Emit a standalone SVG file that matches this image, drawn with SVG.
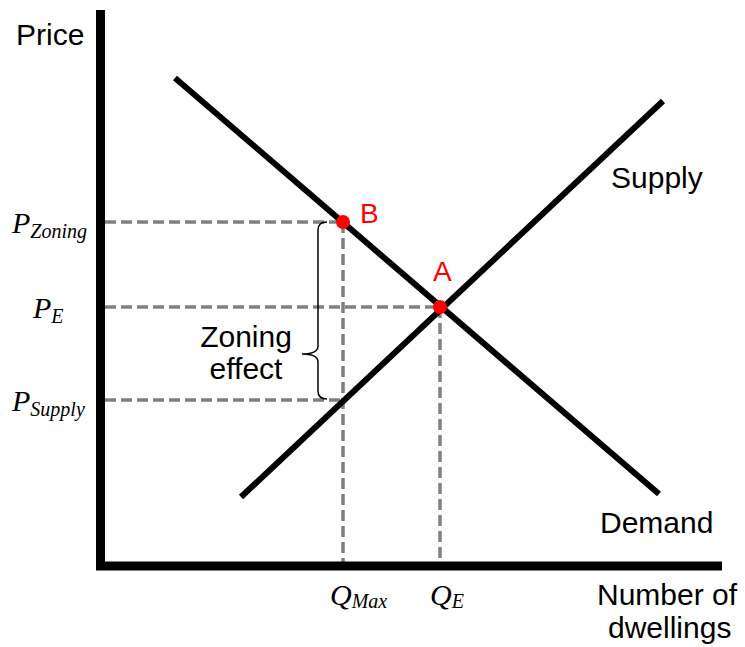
<svg xmlns="http://www.w3.org/2000/svg" width="745" height="647" viewBox="0 0 745 647">
<style>
.axis{stroke:#000;stroke-width:9;fill:none}
.curve{stroke:#000;stroke-width:6;fill:none}
.dash{stroke:#808080;stroke-width:3.5;stroke-dasharray:11 5;fill:none}
.lbl{font-family:"Liberation Sans",Arial,sans-serif;font-size:30px;fill:#000}
.red{font-family:"Liberation Sans",Arial,sans-serif;font-size:28px;fill:#ff0000}
.math{font-family:"Liberation Serif","Times New Roman",serif;font-style:italic;fill:#000}
</style>
<rect width="745" height="647" fill="#fff"/>
<g id="connectors">
<path class="dash" d="M105 222H343M105 307H440M105 400H343M343 222V562M440 307V562"/>
<path class="curve" d="M175 78L659 494"/>
<path class="curve" d="M241 497L663 101"/>
<path d="M327 222Q318 222 318 230V346Q318 354 302 354Q318 354 318 362V391Q318 399 327 399" stroke="#000" stroke-width="1.5" fill="none"/>
<path class="axis" d="M100.5 10V566H722"/>
</g>
<g id="pointB"><circle cx="343" cy="222" r="7" fill="#ff0000"/><text class="red" x="360" y="223">B</text></g>
<g id="pointA"><circle cx="440" cy="307" r="7" fill="#ff0000"/><text class="red" x="433" y="281">A</text></g>
<g id="price"><text class="lbl" x="16" y="45">Price</text></g>
<g id="supply"><text class="lbl" x="611" y="188">Supply</text></g>
<g id="demand"><text class="lbl" x="600" y="533">Demand</text></g>
<g id="xlabel"><text class="lbl" x="597" y="605">Number of</text><text class="lbl" x="608" y="638">dwellings</text></g>
<g id="zoning"><text class="lbl" x="246" y="347" text-anchor="middle" font-size="28">Zoning</text><text class="lbl" x="246" y="379" text-anchor="middle" font-size="28">effect</text></g>
<g id="pzoning"><text class="math" x="12" y="233" font-size="30">P<tspan font-size="20" dy="5">Zoning</tspan></text></g>
<g id="pe"><text class="math" x="33" y="318" font-size="30">P<tspan font-size="20" dy="5">E</tspan></text></g>
<g id="psupply"><text class="math" x="12" y="411" font-size="30">P<tspan font-size="20" dy="5">Supply</tspan></text></g>
<g id="qmax"><text class="math" x="330" y="605" font-size="30">Q<tspan font-size="20" dy="3">Max</tspan></text></g>
<g id="qe"><text class="math" x="430" y="605" font-size="30">Q<tspan font-size="20" dy="3">E</tspan></text></g>
</svg>
